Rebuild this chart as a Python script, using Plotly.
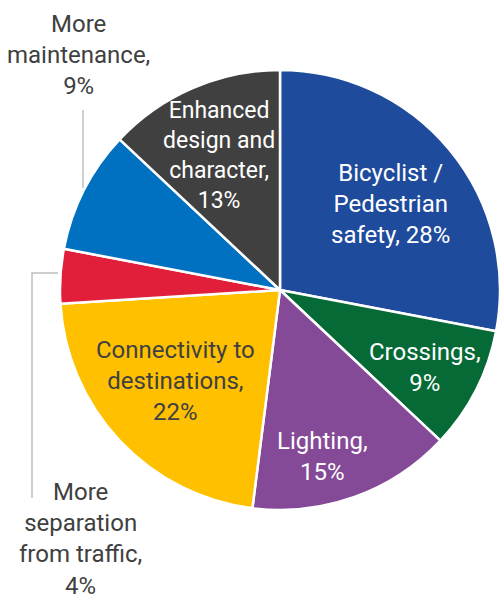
import plotly.graph_objects as go

categories = ["Bicyclist / Pedestrian safety", "Crossings", "Lighting",
              "Connectivity to destinations", "More separation from traffic",
              "More maintenance", "Enhanced design and character"]
values = [28, 9, 15, 22, 4, 9, 13]
colors = ["#1f4b9d", "#066a37", "#844a98", "#ffc000", "#e21f3b", "#0070c0", "#404040"]

label_texts = ["Bicyclist /<br>Pedestrian<br>safety, 28%", "Crossings,<br>9%", "Lighting,<br>15%",
               "Connectivity to<br>destinations,<br>22%", "More<br>separation<br>from traffic,<br>4%",
               "More<br>maintenance,<br>9%", "Enhanced<br>design and<br>character,<br>13%"]
label_pos = [(390, 204), (425, 367), (322, 457), (175, 381), (80, 539), (78, 55), (219, 155)]
label_colors = ["white", "white", "white", "#404040", "#404040", "#404040", "white"]
label_sizes = [24, 24, 24, 24, 24, 24, 23]

W, H = 501, 599
cx, cy, r = 280, 290, 220

fig = go.Figure(go.Pie(
    labels=categories, values=values, sort=False, direction="clockwise", rotation=0,
    marker=dict(colors=colors, line=dict(color="white", width=2.5)),
    textinfo="none", hoverinfo="label+percent", showlegend=False,
    domain=dict(x=[(cx - r) / W, (cx + r) / W], y=[(H - cy - r) / H, (H - cy + r) / H]),
))

font_family = "Roboto"
for t, (x, y), c, s in zip(label_texts, label_pos, label_colors, label_sizes):
    fig.add_annotation(x=x / W, y=1 - y / H, xref="paper", yref="paper", text=t,
                       showarrow=False, font=dict(family=font_family, size=s, color=c),
                       align="center", xanchor="center", yanchor="middle")

line_style = dict(color="#bfbfbf", width=1.5)
fig.add_shape(type="line", xref="paper", yref="paper", x0=83 / W, x1=83 / W,
              y0=1 - 110 / H, y1=1 - 188 / H, line=line_style)
fig.add_shape(type="path", xref="paper", yref="paper",
              path=f"M {58/W} {1-273/H} L {32/W} {1-273/H} L {32/W} {1-498/H}",
              line=line_style)

fig.update_layout(width=W, height=H, margin=dict(l=0, r=0, t=0, b=0),
                  paper_bgcolor="white", plot_bgcolor="white")
fig.write_html("out.html", config={"displayModeBar": False},
               post_script="document.body.style.margin='0';document.body.style.overflow='hidden';")
